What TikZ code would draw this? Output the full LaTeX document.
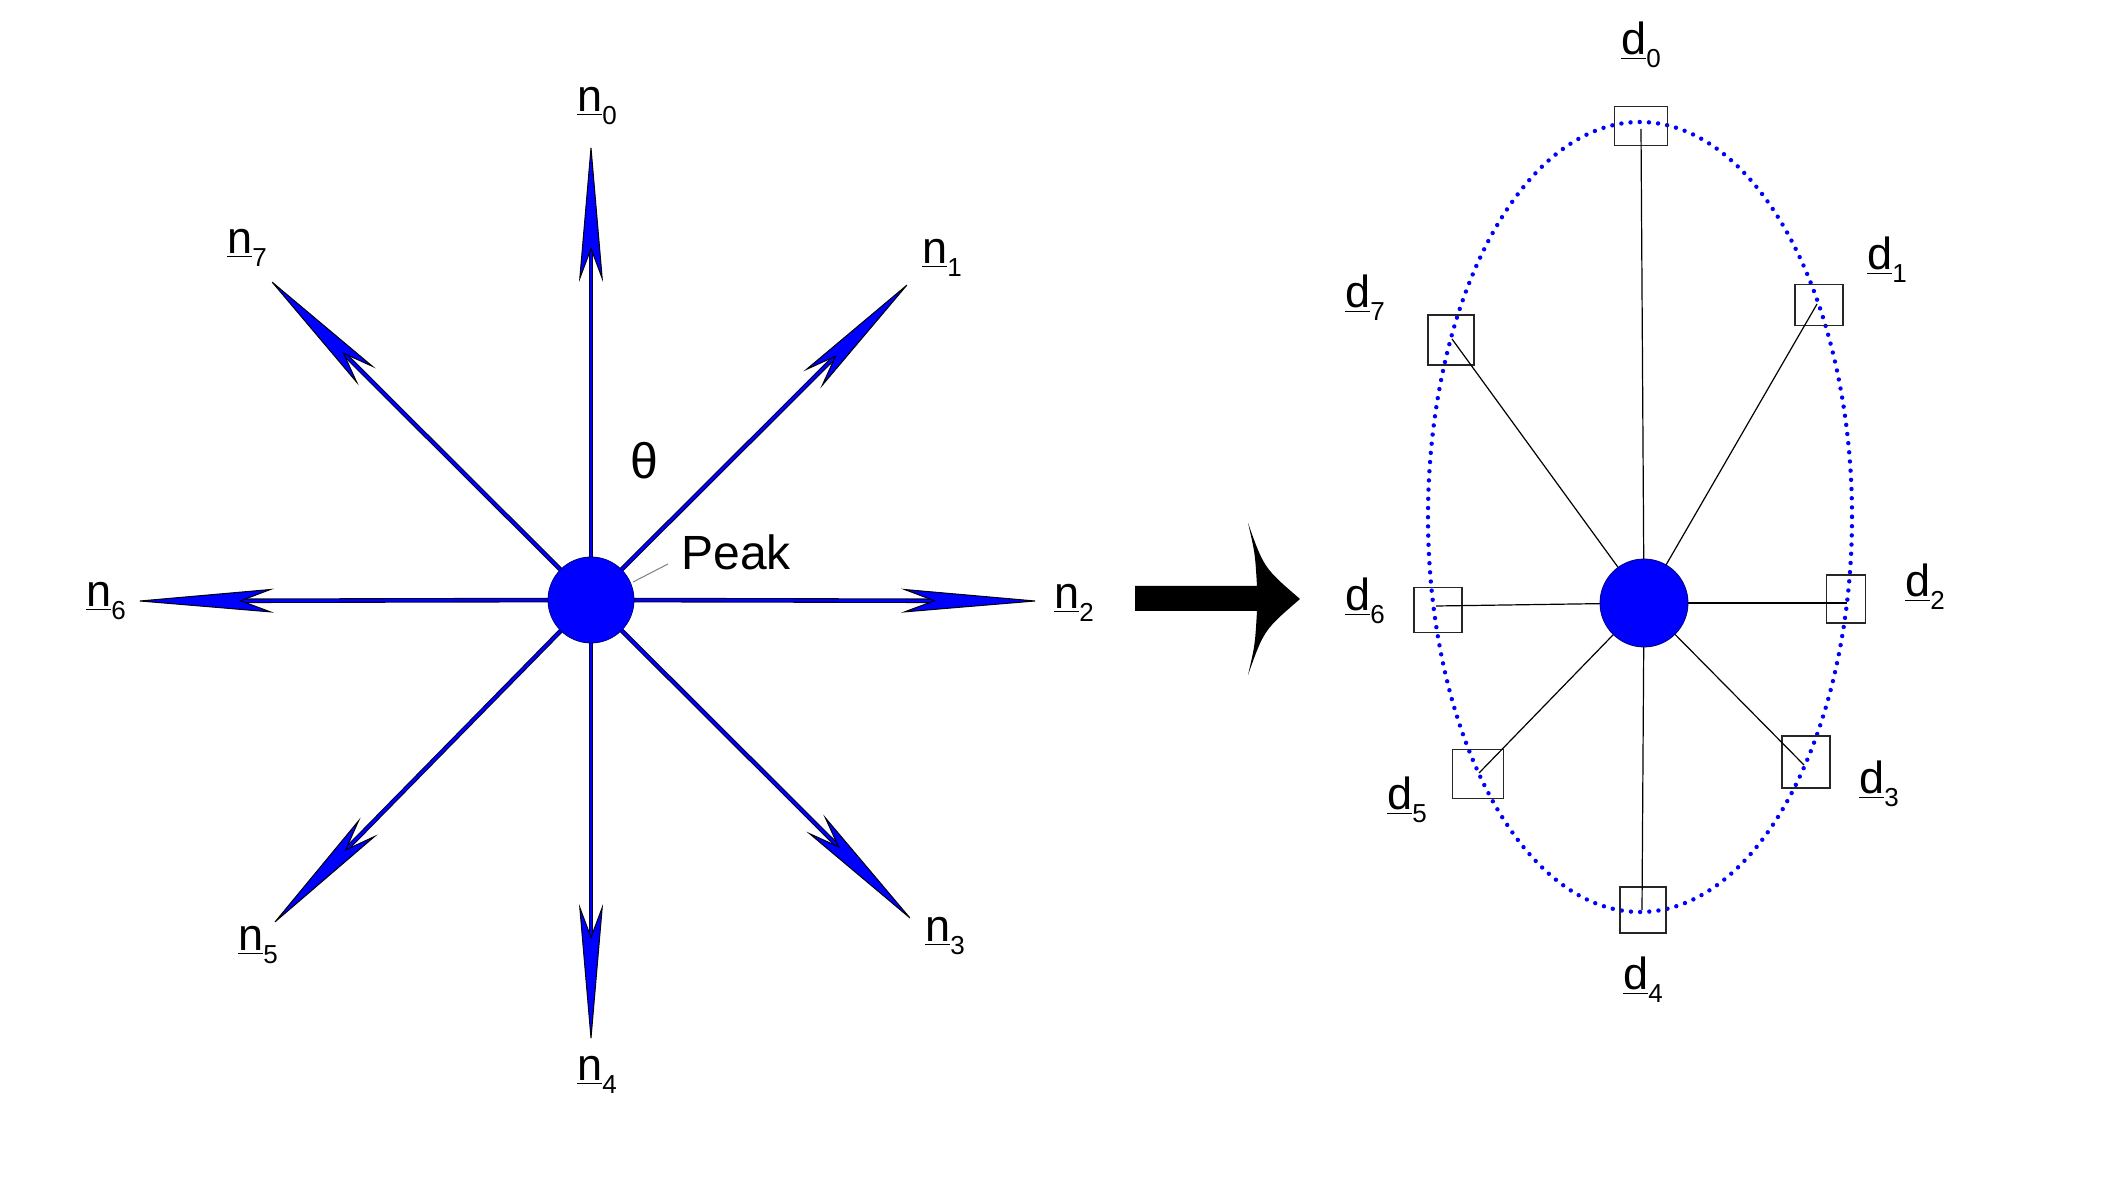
\documentclass[tikz,border=0pt]{standalone}
\usepackage{fontspec}
\setmainfont{Liberation Sans}
\usetikzlibrary{arrows.meta}
\newcommand\vlab[2]{\underline{#1}\raisebox{-6.5pt}{\fontsize{13}{13}\selectfont #2}}
\begin{document}
\begin{tikzpicture}[x=0.5pt,y=-0.5pt,
  lbl/.style={font=\fontsize{22.5}{22.5}\selectfont, inner sep=0pt},
  peakdot/.style={circle, fill=blue, draw=blue!50!black, line width=0.4pt, minimum size=43pt, inner sep=0pt},
  spoke/.style={line width=1.2pt, draw=blue,
    preaction={draw=black!80!blue, line width=2.3pt, -, shorten >=30pt},
    -{Stealth[length=70pt, width=12pt, inset=16pt, color=black, fill=blue, line width=0.5pt]}},
  ray/.style={line width=0.6pt, black},
  markbox/.style={draw=black!85, line width=0.6pt, inner sep=0pt},
  ell/.style={blue, line width=2.2pt, line cap=round, dash pattern=on 0pt off 4.6pt},
  bigarrow/.style={fill=black}
]
\fill[white] (0,0) rectangle (2126,1181);
\useasboundingbox (0,0) rectangle (2126,1181);

% ---------------- left star ----------------
\coordinate (t0) at (591,142);
\coordinate (t1) at (911,281);
\coordinate (t2) at (1041,601);
\coordinate (t3) at (914,922);
\coordinate (t4) at (591,1044);
\coordinate (t5) at (271,926);
\coordinate (t6) at (134,601);
\coordinate (t7) at (268,278);
\coordinate (cc) at (591,600);
\foreach \i in {0,...,7} { \draw[spoke] (cc) -- (t\i); }
\node[peakdot] (c) at (cc) {};

\node[lbl] (n0) at (597,106) {\vlab{n}{0}};
\node[lbl] (n1) at (942,258) {\vlab{n}{1}};
\node[lbl] (n2) at (1074,603) {\vlab{n}{2}};
\node[lbl] (n3) at (945,936) {\vlab{n}{3}};
\node[lbl] (n4) at (597,1075) {\vlab{n}{4}};
\node[lbl] (n5) at (258,945) {\vlab{n}{5}};
\node[lbl] (n6) at (106,601) {\vlab{n}{6}};
\node[lbl] (n7) at (247,248) {\vlab{n}{7}};

\node[lbl, font=\fontsize{25}{25}\selectfont] (theta) at (644,461) {θ};
\node[lbl, font=\fontsize{24}{24}\selectfont, anchor=base west] (peak) at (681,570) {Peak};
\coordinate (ld1) at (633,582);
\coordinate (ld2) at (668,564);
\draw[gray, line width=0.5pt] (ld1) -- (ld2);

% ---------------- big arrow ----------------
\fill[bigarrow] (1135,586) -- (1257,586) .. controls (1255,553) .. (1248,523)
  .. controls (1264,568) .. (1300,599) .. controls (1264,630) .. (1248,675)
  .. controls (1255,645) .. (1257,611) -- (1135,611) -- cycle;

% ---------------- right ellipse ----------------
\draw[ell] (1640,517) ellipse [x radius=212, y radius=395];

\node[markbox, minimum width=26.5pt, minimum height=19.5pt] (s0) at (1641,126) {};
\node[markbox, minimum width=24pt, minimum height=20.5pt] (s1) at (1819,305) {};
\node[markbox, minimum width=19.5pt, minimum height=24pt] (s2) at (1846,599) {};
\node[markbox, minimum width=24pt, minimum height=26pt] (s3) at (1806,762) {};
\node[markbox, minimum width=23pt, minimum height=23pt] (s4) at (1643,910) {};
\node[markbox, minimum width=25.5pt, minimum height=24.5pt] (s5) at (1478,774) {};
\node[markbox, minimum width=24pt, minimum height=22.5pt] (s6) at (1438,610) {};
\node[markbox, minimum width=23pt, minimum height=25pt] (s7) at (1451,340) {};

\coordinate (p0) at (1641,129);
\coordinate (p1) at (1817,304);
\coordinate (p2) at (1847,603);
\coordinate (p3) at (1804,765);
\coordinate (p4) at (1642,910);
\coordinate (p5) at (1479,773);
\coordinate (p6) at (1436,606);
\coordinate (p7) at (1452,339);
\coordinate (dc) at (1644,603);
\foreach \i in {0,...,7} { \draw[ray] (dc) -- (p\i); }
\node[peakdot, minimum size=44pt] (d) at (dc) {};

\node[lbl] (d0) at (1641,45) {\vlab{d}{0}};
\node[lbl] (d1) at (1887,260) {\vlab{d}{1}};
\node[lbl] (d2) at (1925,587) {\vlab{d}{2}};
\node[lbl] (d3) at (1879,784) {\vlab{d}{3}};
\node[lbl] (d4) at (1643,980) {\vlab{d}{4}};
\node[lbl] (d5) at (1407,800) {\vlab{d}{5}};
\node[lbl] (d6) at (1365,601) {\vlab{d}{6}};
\node[lbl] (d7) at (1365,298) {\vlab{d}{7}};
\end{tikzpicture}
\end{document}
